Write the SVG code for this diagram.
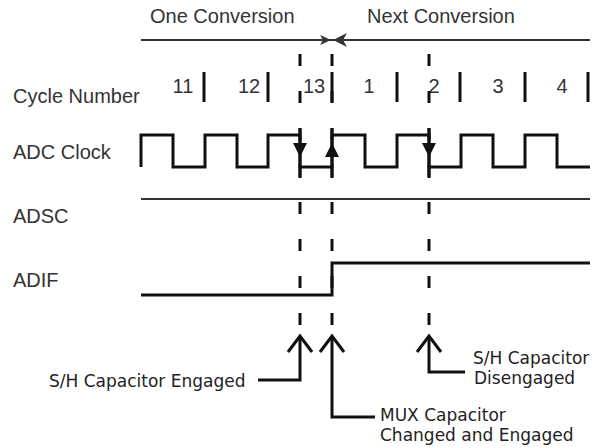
<svg xmlns="http://www.w3.org/2000/svg" width="599" height="448" viewBox="0 0 599 448">
<style>
.lbl{font-family:"Liberation Sans",Arial,sans-serif;font-size:20px;fill:#333}
.note{font-family:"DejaVu Sans",Verdana,sans-serif;font-size:17px;fill:#222}
.sig{fill:none;stroke:#111;stroke-width:3}
.thin{fill:none;stroke:#333;stroke-width:2}
.dash{fill:none;stroke:#111;stroke-width:3;stroke-dasharray:12 25}
.tick{stroke:#111;stroke-width:3}
.tri{fill:#111}
</style>
<rect width="599" height="448" fill="#fff"/>
<g id="titles">
<text class="lbl" x="150" y="23">One Conversion</text>
<text class="lbl" x="367" y="23">Next Conversion</text>
</g>
<g id="conversion-arrow">
<line class="thin" x1="141" y1="40" x2="590" y2="40"/>
<path fill="#333" d="M331,40 L320,35 L323,40 L320,45 Z"/>
<path fill="#333" d="M333,40 L347,33 L343,40 L347,47 Z"/>
</g>
<g id="row-labels">
<text class="lbl" x="13" y="103">Cycle Number</text>
<text class="lbl" x="13" y="159">ADC Clock</text>
<text class="lbl" x="13" y="223">ADSC</text>
<text class="lbl" x="13" y="287">ADIF</text>
</g>
<g id="cycle-number">
<g class="lbl" text-anchor="middle">
<text x="183" y="93">11</text>
<text x="249" y="93">12</text>
<text x="314" y="93">13</text>
<text x="369" y="93">1</text>
<text x="434" y="93">2</text>
<text x="498" y="93">3</text>
<text x="562" y="93">4</text>
</g>
<g class="tick">
<line x1="204" y1="72" x2="204" y2="102"/>
<line x1="268" y1="72" x2="268" y2="102"/>
<line x1="332" y1="72" x2="332" y2="102"/>
<line x1="397" y1="72" x2="397" y2="102"/>
<line x1="460" y1="72" x2="460" y2="102"/>
<line x1="525" y1="72" x2="525" y2="102"/>
<line x1="588" y1="72" x2="588" y2="102"/>
</g>
</g>
<g id="adc-clock">
<path class="sig" d="M141,167 V135 H173 V167 H205 V135 H237 V167 H268 V135 H300 V167 H332 V135 H365 V167 H397 V135 H429 V167 H461 V135 H493 V167 H525 V135 H557 V167 H590"/>
<g class="tick">
<line x1="300" y1="128" x2="300" y2="178"/>
<line x1="332" y1="128" x2="332" y2="178"/>
<line x1="429" y1="128" x2="429" y2="178"/>
</g>
<path class="tri" d="M293,143 L307,143 L300,157 Z"/>
<path class="tri" d="M325,157 L339,157 L332,143 Z"/>
<path class="tri" d="M422,143 L436,143 L429,157 Z"/>
</g>
<g id="adsc">
<line class="thin" stroke="#111" x1="141" y1="199" x2="590" y2="199"/>
</g>
<g id="adif">
<path class="sig" d="M141,295 H332 V263 H590"/>
</g>
<g id="connectors">
<line class="dash" x1="300" y1="54" x2="300" y2="328"/>
<line class="dash" x1="332" y1="54" x2="332" y2="328"/>
<line class="dash" x1="429" y1="54" x2="429" y2="328"/>
<path class="sig" d="M258,380 H300 V336"/>
<path class="sig" d="M288,352 L300,336 L312,352"/>
<path class="sig" d="M375,417 H332 V336"/>
<path class="sig" d="M320,352 L332,336 L344,352"/>
<path class="sig" d="M465,372 H429 V336"/>
<path class="sig" d="M417,352 L429,336 L441,352"/>
</g>
<g id="notes">
<text class="note" x="49" y="387">S/H Capacitor Engaged</text>
<text class="note" x="380" y="421">MUX Capacitor</text>
<text class="note" x="380" y="441">Changed and Engaged</text>
<text class="note" x="473" y="364">S/H Capacitor</text>
<text class="note" x="474" y="384">Disengaged</text>
</g>
</svg>
